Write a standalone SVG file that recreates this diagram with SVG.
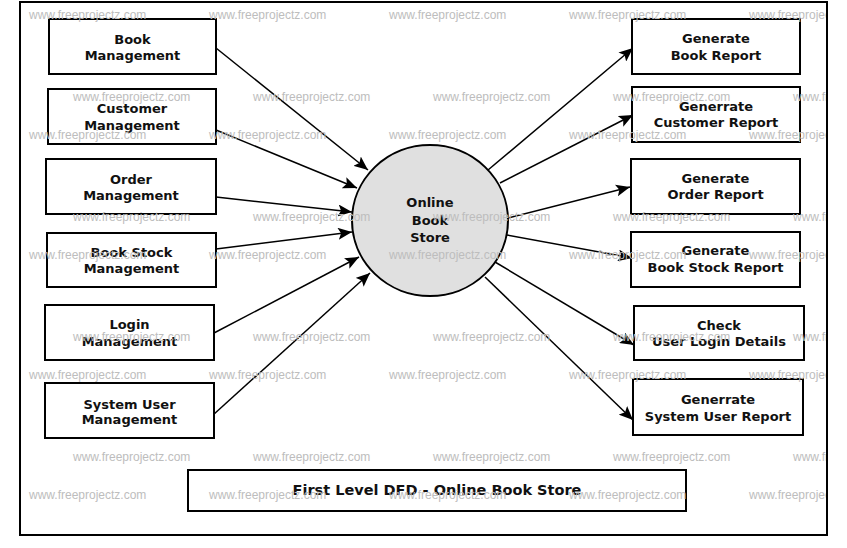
<svg xmlns="http://www.w3.org/2000/svg" width="847" height="548" viewBox="0 0 847 548">
<style>
.box{fill:#fff;stroke:#000;stroke-width:2}
.t{font-family:"DejaVu Sans",sans-serif;font-weight:bold;font-size:13px;fill:#111;text-anchor:middle}
.title{font-size:14.5px}
.c{stroke:#000;stroke-width:1.5;fill:none;marker-end:url(#ah)}
.wm{font-family:"Liberation Sans",Arial,sans-serif;font-size:12px;fill:#bdbdbd}
</style>
<defs>
<marker id="ah" markerUnits="userSpaceOnUse" markerWidth="15" markerHeight="12" refX="14" refY="6" orient="auto">
<path d="M0,0 L14,6 L0,12 L3,6 z" fill="#000"/>
</marker>
<clipPath id="frame"><rect x="21" y="3" width="805" height="531"/></clipPath>
</defs>
<rect x="0" y="0" width="847" height="548" fill="#fff"/>
<rect x="20" y="2" width="807" height="533" fill="none" stroke="#000" stroke-width="2"/>

<g id="connectors">
<line class="c" x1="216" y1="48" x2="368" y2="170"/>
<line class="c" x1="216" y1="130" x2="357" y2="188"/>
<line class="c" x1="216" y1="197" x2="352" y2="212"/>
<line class="c" x1="216" y1="249" x2="352" y2="232"/>
<line class="c" x1="214" y1="333" x2="359" y2="257"/>
<line class="c" x1="213" y1="415" x2="370" y2="273"/>
<line class="c" x1="488" y1="170" x2="633" y2="48"/>
<line class="c" x1="500" y1="183" x2="633" y2="115"/>
<line class="c" x1="508" y1="218" x2="630" y2="187"/>
<line class="c" x1="507" y1="235" x2="632" y2="258"/>
<line class="c" x1="495" y1="262" x2="634" y2="345"/>
<line class="c" x1="485" y1="277" x2="633" y2="420"/>
</g>

<g id="online-book-store">
<ellipse cx="430" cy="220.5" rx="78" ry="75.5" fill="#e0e0e0" stroke="#000" stroke-width="2"/>
<text class="t" x="430" y="207">Online</text>
<text class="t" x="430" y="225">Book</text>
<text class="t" x="430" y="242">Store</text>
</g>

<g id="book-management">
<rect class="box" x="49" y="19" width="167" height="55"/>
<text class="t" x="132.5" y="44">Book</text>
<text class="t" x="132.5" y="60">Management</text>
</g>
<g id="customer-management">
<rect class="box" x="48" y="89" width="168" height="55"/>
<text class="t" x="132" y="113">Customer</text>
<text class="t" x="132" y="130">Management</text>
</g>
<g id="order-management">
<rect class="box" x="46" y="159" width="170" height="55"/>
<text class="t" x="131" y="184">Order</text>
<text class="t" x="131" y="200">Management</text>
</g>
<g id="book-stock-management">
<rect class="box" x="47" y="233" width="169" height="54"/>
<text class="t" x="131.5" y="257">Book Stock</text>
<text class="t" x="131.5" y="273">Management</text>
</g>
<g id="login-management">
<rect class="box" x="45" y="305" width="169" height="55"/>
<text class="t" x="129.5" y="329">Login</text>
<text class="t" x="129.5" y="346">Management</text>
</g>
<g id="system-user-management">
<rect class="box" x="45" y="383" width="169" height="55"/>
<text class="t" x="129.5" y="409">System User</text>
<text class="t" x="129.5" y="424">Management</text>
</g>

<g id="generate-book-report">
<rect class="box" x="632" y="19" width="168" height="55"/>
<text class="t" x="716" y="43">Generate</text>
<text class="t" x="716" y="60">Book Report</text>
</g>
<g id="generate-customer-report">
<rect class="box" x="632" y="87" width="168" height="55"/>
<text class="t" x="716" y="111">Generrate</text>
<text class="t" x="716" y="127">Customer Report</text>
</g>
<g id="generate-order-report">
<rect class="box" x="631" y="159" width="169" height="55"/>
<text class="t" x="715.5" y="183">Generate</text>
<text class="t" x="715.5" y="199">Order Report</text>
</g>
<g id="generate-book-stock-report">
<rect class="box" x="631" y="232" width="169" height="55"/>
<text class="t" x="715.5" y="255">Generate</text>
<text class="t" x="715.5" y="272">Book Stock Report</text>
</g>
<g id="check-user-login-details">
<rect class="box" x="634" y="306" width="170" height="54"/>
<text class="t" x="719" y="330">Check</text>
<text class="t" x="719" y="346">User Login Details</text>
</g>
<g id="generate-system-user-report">
<rect class="box" x="633" y="379" width="170" height="56"/>
<text class="t" x="718" y="404">Generrate</text>
<text class="t" x="718" y="421">System User Report</text>
</g>

<g id="title">
<rect class="box" x="188" y="470" width="498" height="41"/>
<text class="t title" x="437" y="495">First Level DFD - Online Book Store</text>
</g>

<g id="watermarks" clip-path="url(#frame)">
<text class="wm" x="29" y="19">www.freeprojectz.com</text>
<text class="wm" x="209" y="19">www.freeprojectz.com</text>
<text class="wm" x="389" y="19">www.freeprojectz.com</text>
<text class="wm" x="569" y="19">www.freeprojectz.com</text>
<text class="wm" x="749" y="19">www.freeprojectz.com</text>
<text class="wm" x="73" y="101">www.freeprojectz.com</text>
<text class="wm" x="253" y="101">www.freeprojectz.com</text>
<text class="wm" x="433" y="101">www.freeprojectz.com</text>
<text class="wm" x="613" y="101">www.freeprojectz.com</text>
<text class="wm" x="793" y="101">www.freeprojectz.com</text>
<text class="wm" x="29" y="139">www.freeprojectz.com</text>
<text class="wm" x="209" y="139">www.freeprojectz.com</text>
<text class="wm" x="389" y="139">www.freeprojectz.com</text>
<text class="wm" x="569" y="139">www.freeprojectz.com</text>
<text class="wm" x="749" y="139">www.freeprojectz.com</text>
<text class="wm" x="73" y="221">www.freeprojectz.com</text>
<text class="wm" x="253" y="221">www.freeprojectz.com</text>
<text class="wm" x="433" y="221">www.freeprojectz.com</text>
<text class="wm" x="613" y="221">www.freeprojectz.com</text>
<text class="wm" x="793" y="221">www.freeprojectz.com</text>
<text class="wm" x="29" y="259">www.freeprojectz.com</text>
<text class="wm" x="209" y="259">www.freeprojectz.com</text>
<text class="wm" x="389" y="259">www.freeprojectz.com</text>
<text class="wm" x="569" y="259">www.freeprojectz.com</text>
<text class="wm" x="749" y="259">www.freeprojectz.com</text>
<text class="wm" x="73" y="341">www.freeprojectz.com</text>
<text class="wm" x="253" y="341">www.freeprojectz.com</text>
<text class="wm" x="433" y="341">www.freeprojectz.com</text>
<text class="wm" x="613" y="341">www.freeprojectz.com</text>
<text class="wm" x="793" y="341">www.freeprojectz.com</text>
<text class="wm" x="29" y="379">www.freeprojectz.com</text>
<text class="wm" x="209" y="379">www.freeprojectz.com</text>
<text class="wm" x="389" y="379">www.freeprojectz.com</text>
<text class="wm" x="569" y="379">www.freeprojectz.com</text>
<text class="wm" x="749" y="379">www.freeprojectz.com</text>
<text class="wm" x="73" y="461">www.freeprojectz.com</text>
<text class="wm" x="253" y="461">www.freeprojectz.com</text>
<text class="wm" x="433" y="461">www.freeprojectz.com</text>
<text class="wm" x="613" y="461">www.freeprojectz.com</text>
<text class="wm" x="793" y="461">www.freeprojectz.com</text>
<text class="wm" x="29" y="499">www.freeprojectz.com</text>
<text class="wm" x="209" y="499">www.freeprojectz.com</text>
<text class="wm" x="389" y="499">www.freeprojectz.com</text>
<text class="wm" x="569" y="499">www.freeprojectz.com</text>
<text class="wm" x="749" y="499">www.freeprojectz.com</text>
</g>
</svg>
